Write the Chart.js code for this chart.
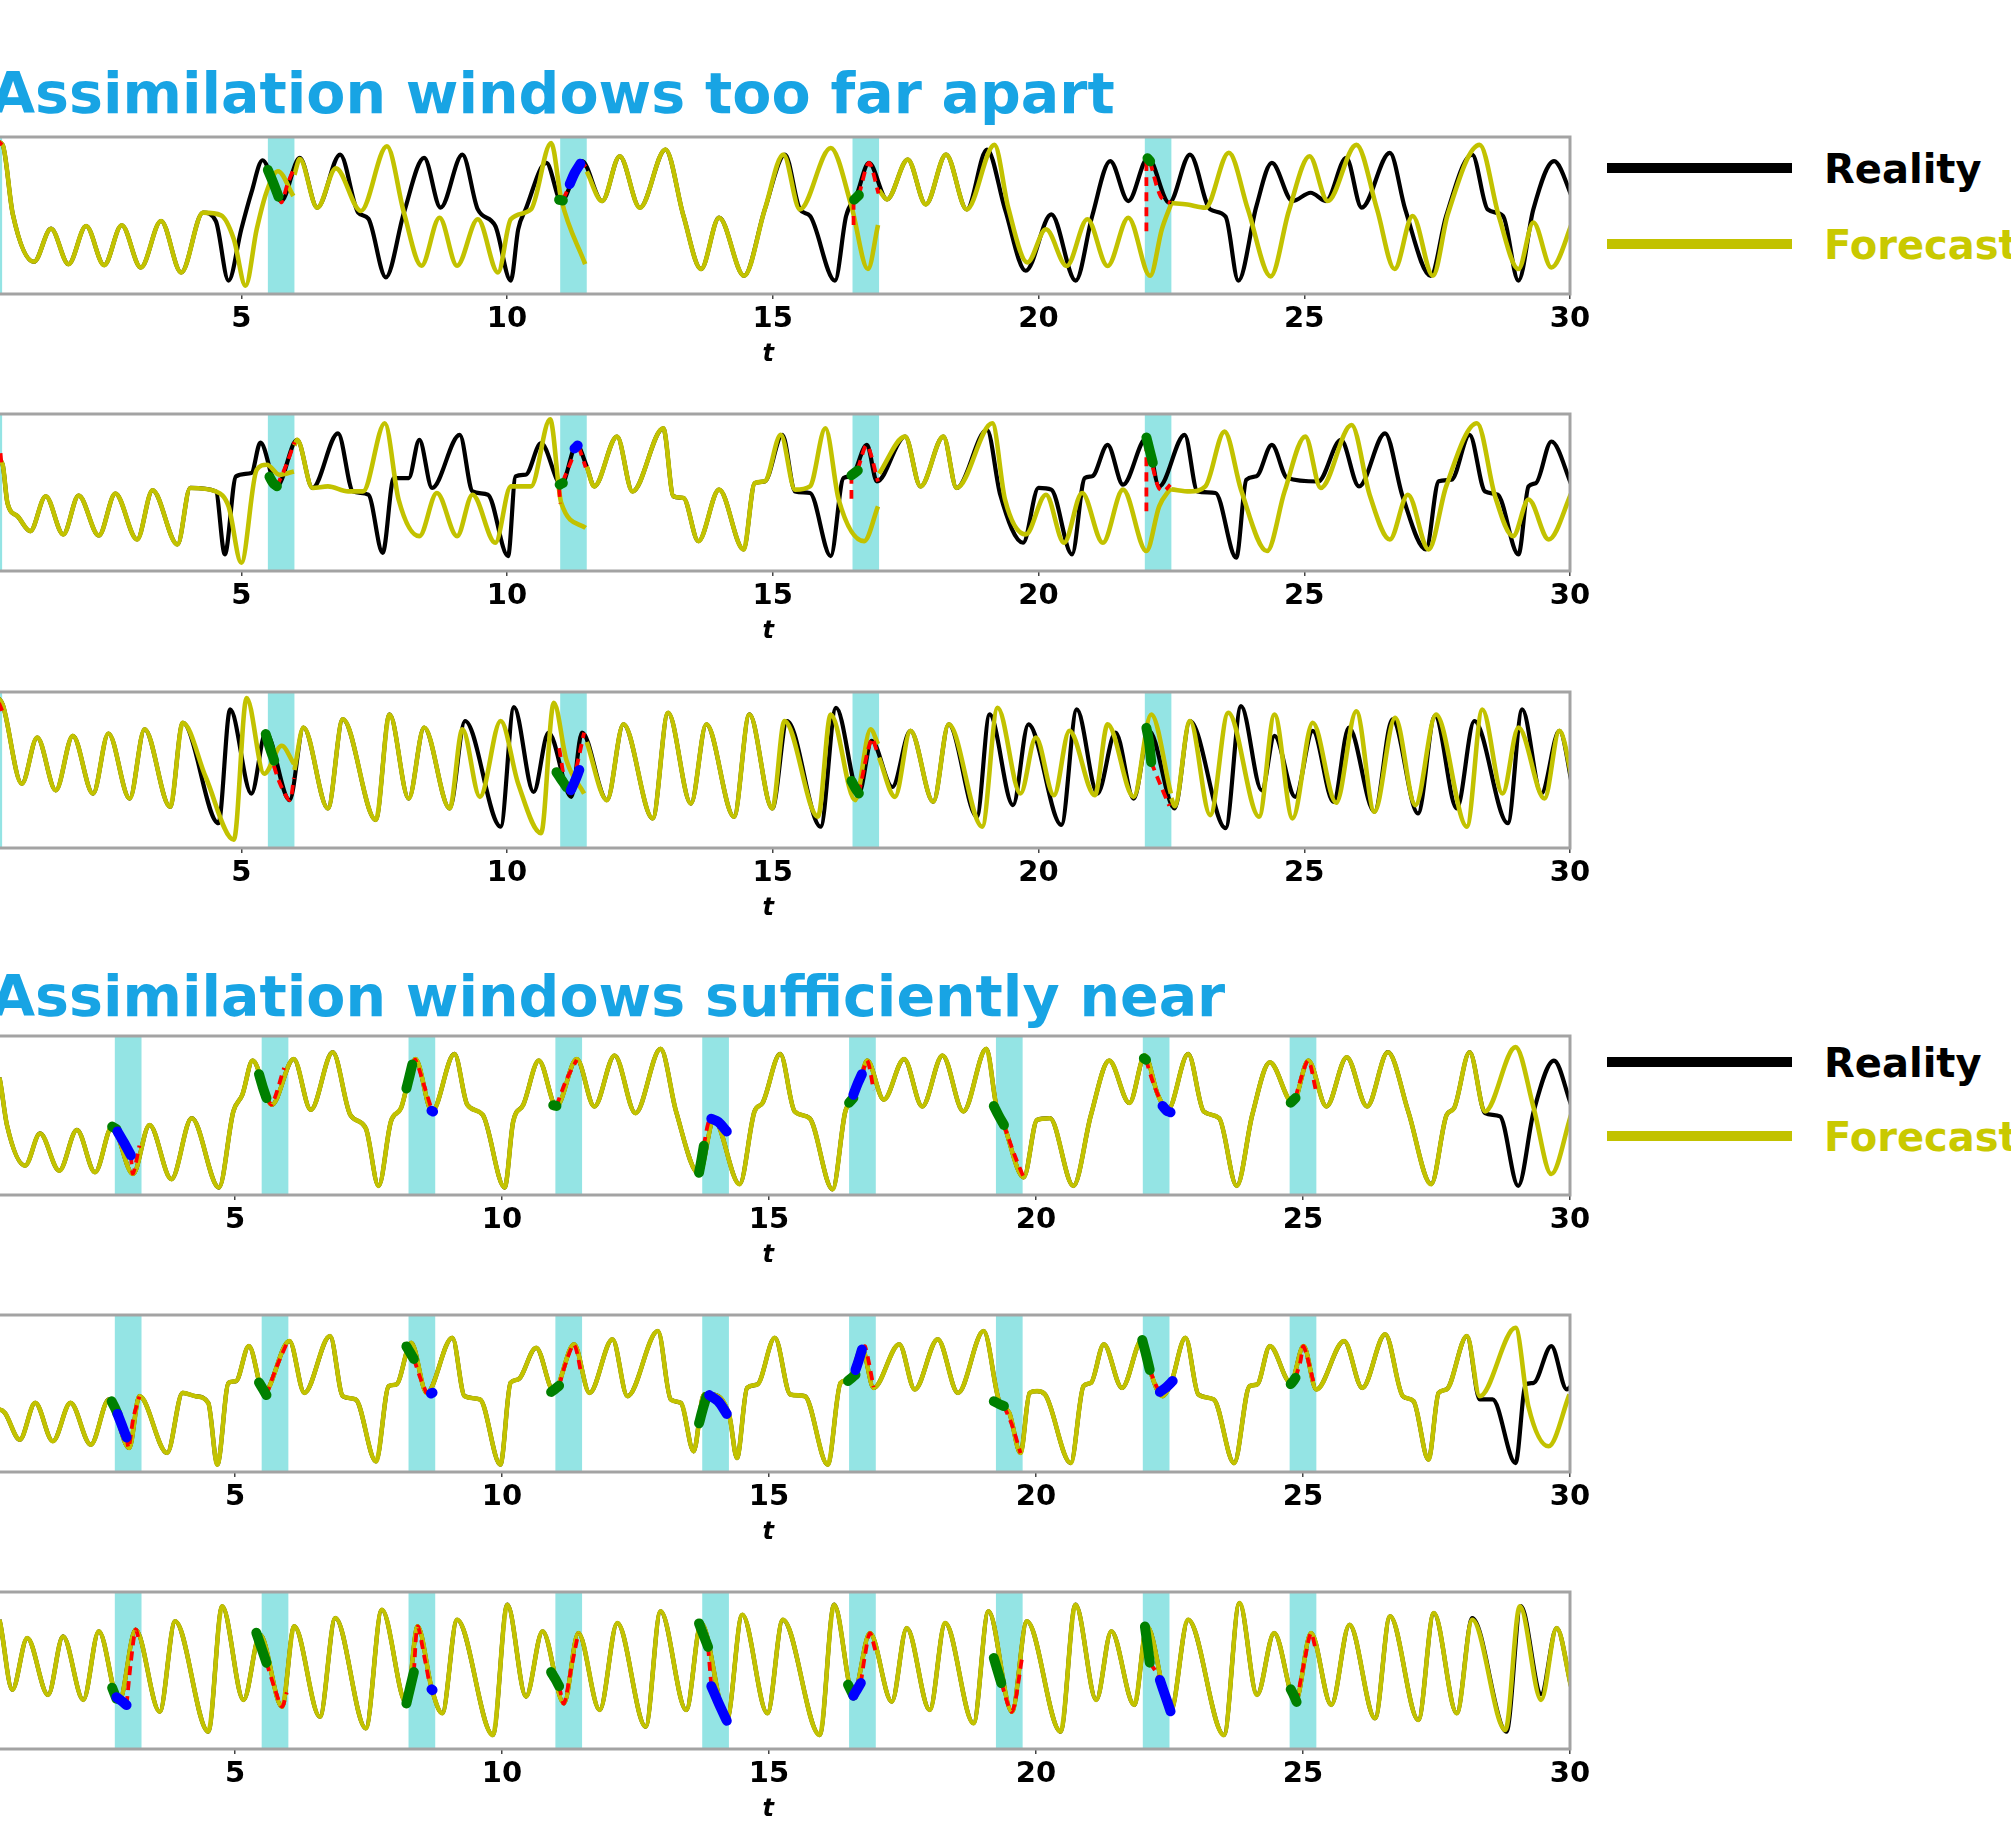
<!DOCTYPE html>
<html>
<head>
<meta charset="utf-8">
<script src="https://cdn.jsdelivr.net/npm/chart.js@4.4.1/dist/chart.umd.min.js"></script>
<style>
  html, body { margin: 0; padding: 0; background: #fff; width: 2011px; height: 1843px; overflow: hidden; position: relative; }
  .heading { position: absolute; left: -9px; font-family: "DejaVu Sans", sans-serif; font-weight: bold; font-size: 57px; line-height: 64px; height: 64px; color: #18a4e4; white-space: nowrap; }
  .swatch { position: absolute; left: 1607px; width: 185px; height: 10px; }
  .leglabel { position: absolute; left: 1824px; font-family: "DejaVu Sans", sans-serif; font-weight: bold; font-size: 40px; line-height: 46px; height: 46px; white-space: nowrap; }
</style>
</head>
<body>
<div class="heading" style="top:61px">Assimilation windows too far apart</div>
<div class="heading" style="top:964px">Assimilation windows sufficiently near</div>

<div class="swatch" style="top:163px;background:#000"></div>
<div class="leglabel" style="top:146px;color:#000">Reality</div>
<div class="swatch" style="top:239px;background:#c2c200"></div>
<div class="leglabel" style="top:222px;color:#c9c900">Forecast</div>

<div class="swatch" style="top:1057px;background:#000"></div>
<div class="leglabel" style="top:1040px;color:#000">Reality</div>
<div class="swatch" style="top:1131px;background:#c2c200"></div>
<div class="leglabel" style="top:1114px;color:#c9c900">Forecast</div>

<script>
// ---- time axis ----
const tickValues = [5, 10, 15, 20, 25, 30];
const windowWidth = 0.5;
const farWindows = [0, 5.5, 11, 16.5, 22];
const nearWindows = [2.75, 5.5, 8.25, 11, 13.75, 16.5, 19.25, 22, 24.75];

// ---- windows too far apart: panel 1 ----
const far1Reality = [[0.40,97],[0.51,95],[0.70,51],[1.10,20.5],[1.42,41.6],[1.75,19],[2.08,43.3],[2.42,18.4],[2.75,43.8],[3.11,16.9],[3.49,46.5],[3.87,13.7],[4.28,51.8],[4.52,46.5],[4.76,8.5],[5.00,41.2],[5.19,64.5],[5.40,85.2],[5.75,59.2],[6.10,86.7],[6.43,55],[6.86,88.8],[7.20,51.8],[7.39,48],[7.72,10.6],[8.06,51.8],[8.44,86.7],[8.75,55],[9.16,88.8],[9.45,53.9],[9.78,43.3],[10.07,8.5],[10.21,41.2],[10.35,53.9],[10.74,83.5],[11.02,59.2],[11.41,84.6],[11.79,59.2],[12.12,87.7],[12.50,55],[12.98,92],[13.32,49.7],[13.65,15.9],[13.99,48.6],[14.46,11.6],[14.85,53.9],[15.23,88.8],[15.51,53.9],[15.70,49.7],[16.17,8.5],[16.38,49.7],[16.57,62.4],[16.81,83.5],[17.15,60.3],[17.54,85.6],[17.88,57.1],[18.26,88.8],[18.65,53.9],[19.03,92],[19.37,53.9],[19.76,14.8],[20.24,50.7],[20.70,8.5],[21.01,49.7],[21.35,84.6],[21.69,59.2],[22.06,86.7],[22.46,58.1],[22.85,88.8],[23.23,53.9],[23.52,49.3],[23.76,8.5],[24.10,56],[24.39,83.5],[24.78,59.2],[25.12,64.5],[25.41,59.2],[25.79,86.7],[26.08,55],[26.61,89.9],[26.90,53.9],[27.38,11.6],[27.67,49.7],[28.16,88.8],[28.45,53.9],[28.74,49.7],[29.03,8.5],[29.31,53.9],[29.70,84.6],[30.07,59.2]];
const far1Forecast = [[0.40,97],[0.51,95],[0.70,51],[1.10,20.5],[1.42,41.6],[1.75,19],[2.08,43.3],[2.42,18.4],[2.75,43.8],[3.11,16.9],[3.49,46.5],[3.87,13.7],[4.28,51.8],[4.62,50.1],[4.86,34.9],[5.08,5.3],[5.29,41.2],[5.48,65.5],[5.69,78.2],[5.98,62.4],[6.0,null],[6.0,76],[6.10,86],[6.43,55],[6.78,80],[7.25,52.9],[7.74,94.1],[8.06,51.8],[8.39,18],[8.73,48.6],[9.06,18],[9.45,47.6],[9.83,13.7],[10.07,47.6],[10.45,53.9],[10.83,96.2],[11.02,60.3],[11.47,19],[11.5,null],[11.5,78],[11.79,59.2],[12.12,87.7],[12.50,55],[12.98,92],[13.32,49.7],[13.65,15.9],[13.99,48.6],[14.46,11.6],[14.85,53.9],[15.20,88.8],[15.51,53.9],[16.09,93],[16.48,56],[16.79,15.9],[16.98,44],[17.0,null],[17.0,66],[17.15,60.3],[17.54,85.6],[17.88,57.1],[18.26,88.8],[18.65,53.9],[19.17,95],[19.43,55],[19.79,20.1],[20.14,41.2],[20.53,17.8],[20.92,47.6],[21.30,17.8],[21.69,48.6],[22.10,11.6],[22.32,41.2],[22.49,57],[22.5,null],[22.5,58],[22.8,57],[23.14,55],[23.58,90],[23.94,53.9],[24.37,11.2],[24.71,52.9],[25.10,87.7],[25.44,59.2],[25.98,95],[26.37,53.9],[26.70,15.9],[27.04,49.7],[27.42,11.6],[27.70,50.7],[28.30,95],[28.66,49.7],[29.03,15.9],[29.31,45.5],[29.65,16.9],[30.07,47.6]];
const far1Green = [[5.50,79],[5.60,71],[5.70,62],[5.71,null],[10.98,60],[11.05,59.5],[11.06,null],[16.53,60],[16.62,63],[16.63,null],[22.05,86.5],[22.10,84.5]];
const far1Blue = [[11.18,70],[11.27,77],[11.38,83]];
const far1Red = [[0.44,97],[0.50,95],[0.51,null],[5.70,62],[5.76,58.5],[5.87,70],[5.99,80],[6.0,null],[11.05,60],[11.15,67],[11.16,null],[11.40,84],[11.48,81],[11.49,null],[16.52,44],[16.52,60],[16.53,null],[16.62,63],[16.81,83.5],[16.99,64],[17.0,null],[22.03,40],[22.03,86],[22.04,null],[22.10,84],[22.30,62],[22.48,58]];

// ---- windows too far apart: panel 2 ----
const far2Reality = [[0.40,72],[0.51,67.7],[0.60,43.3],[0.79,34.9],[1.03,25.4],[1.32,47.6],[1.65,23.3],[1.94,48],[2.32,22.6],[2.63,49.3],[3.04,20.1],[3.33,51.4],[3.80,16.9],[4.04,52.9],[4.52,50.7],[4.69,10.6],[4.90,60.3],[5.19,62.4],[5.36,81.8],[5.67,53.9],[6.05,83.5],[6.34,52.9],[6.82,87.7],[7.10,50.7],[7.39,48.6],[7.66,11.6],[7.87,59.2],[8.15,59.2],[8.35,83.5],[8.59,52.9],[9.11,86.7],[9.35,50.7],[9.64,48.6],[10.02,9.5],[10.16,60.3],[10.35,61.3],[10.64,81.4],[11.02,55],[11.31,80.3],[11.50,66.6],[11.64,53.9],[12.07,85.6],[12.36,50.7],[12.94,90.9],[13.13,47.6],[13.32,46.5],[13.60,19],[13.99,51.8],[14.45,13.7],[14.66,56],[14.85,57.1],[15.18,86.7],[15.42,50.7],[15.70,49.7],[16.09,9.5],[16.33,59.2],[16.48,60.3],[16.77,80.3],[16.96,57.1],[17.49,85.6],[17.78,53.9],[18.21,85.6],[18.46,52.9],[19.03,89.9],[19.28,48.6],[19.71,18],[20.0,52.9],[20.24,51.8],[20.63,10.6],[20.87,59.2],[21.01,60.3],[21.30,80.3],[21.59,55],[22.03,84.6],[22.27,53.9],[22.75,86.7],[22.99,50.7],[23.33,49.7],[23.72,8.5],[23.91,58.1],[24.10,60.3],[24.39,80.3],[24.68,59.2],[25.26,57],[25.69,83.5],[26.03,53.9],[26.52,87.7],[26.85,47.6],[27.29,13.7],[27.53,57.1],[27.77,58.1],[28.11,86.7],[28.40,50.7],[28.64,48.6],[29.03,10.6],[29.22,53.9],[29.36,56],[29.65,82.5],[30.04,53.9]];
const far2Forecast = [[0.40,72],[0.51,67.7],[0.60,43.3],[0.79,34.9],[1.03,25.4],[1.32,47.6],[1.65,23.3],[1.94,48],[2.32,22.6],[2.63,49.3],[3.04,20.1],[3.33,51.4],[3.80,16.9],[4.04,52.9],[4.52,50.7],[4.76,41.2],[5.00,5.3],[5.29,64.5],[5.48,67.7],[5.72,61.3],[5.99,63.4],[6.0,null],[6.0,80],[6.05,83.5],[6.34,52.9],[6.63,53.9],[7.01,50.7],[7.29,50.7],[7.70,94.1],[7.96,45.5],[8.35,22.2],[8.68,49.7],[9.06,22.2],[9.35,48.6],[9.78,18],[10.07,53.9],[10.45,53.9],[10.81,96.6],[11.02,43.3],[11.48,27.5],[11.5,null],[11.5,66.6],[11.64,53.9],[12.07,85.6],[12.36,50.7],[12.94,90.9],[13.13,47.6],[13.32,46.5],[13.60,19],[13.99,51.8],[14.45,13.7],[14.66,56],[14.85,57.1],[15.15,86.7],[15.42,51.8],[15.70,53.9],[15.99,90.9],[16.24,45.5],[16.72,19],[16.98,41.2],[17.0,null],[17.0,62],[17.49,85.6],[17.78,53.9],[18.21,85.6],[18.46,52.9],[19.13,94.1],[19.37,45.5],[19.76,23.3],[20.14,48.6],[20.48,18],[20.82,49.7],[21.21,18],[21.59,51.8],[22.03,12.7],[22.27,41.2],[22.49,52.9],[22.5,null],[22.5,52],[22.85,50.7],[23.14,53.9],[23.50,88.8],[23.81,51.8],[24.30,12.7],[24.63,50.7],[25.02,85.6],[25.31,52.9],[25.89,93],[26.23,48.6],[26.61,20.1],[26.95,48.6],[27.34,13.7],[27.67,53.9],[28.25,94.1],[28.59,47.6],[28.93,22.2],[29.22,45.5],[29.60,20.1],[30.04,50.7]];
const far2Green = [[5.53,60],[5.60,56],[5.67,54],[5.68,null],[10.99,55],[11.05,56],[11.06,null],[16.48,61],[16.60,64],[16.61,null],[22.03,85],[22.09,77],[22.15,69]];
const far2Blue = [[11.27,78],[11.33,80]];
const far2Red = [[0.47,75],[0.49,67],[0.50,null],[5.67,54],[5.84,67],[6.0,82],[6.01,null],[10.98,53],[11.0,43],[11.01,null],[11.05,57],[11.22,71],[11.23,null],[11.35,79],[11.48,66],[11.49,null],[16.48,46],[16.48,61],[16.49,null],[16.60,65],[16.77,80],[16.98,57],[16.99,null],[22.03,38],[22.03,84],[22.04,null],[22.15,66],[22.26,53],[22.36,51],[22.48,55]];

// ---- windows too far apart: panel 3 ----
const far3Reality = [[0.40,97],[0.51,92],[0.87,41.2],[1.16,70.8],[1.51,37],[1.83,71.9],[2.21,34.9],[2.50,73.4],[2.90,31.7],[3.18,76.1],[3.66,26.4],[3.90,80.3],[4.57,15.9],[4.79,88.8],[5.19,34.9],[5.46,74],[5.91,30.7],[6.17,77.2],[6.63,25.4],[6.91,82.5],[7.53,18],[7.79,85.6],[8.15,31.7],[8.44,77.2],[8.92,25.4],[9.21,81.4],[9.88,13.7],[10.13,90.3],[10.50,35.9],[10.78,74],[11.21,32.8],[11.41,74],[11.88,30.7],[12.19,79.3],[12.74,19],[13.03,86.7],[13.46,28.5],[13.75,79.3],[14.27,20.1],[14.56,85.6],[14.99,25.4],[15.27,81.4],[15.90,13.7],[16.19,89.9],[16.62,34.9],[16.86,68.7],[17.25,39.1],[17.59,75.1],[18.02,29.6],[18.31,79.3],[18.84,20.1],[19.08,85.6],[19.52,27.5],[19.81,79.3],[20.43,14.8],[20.72,88.8],[21.11,34.9],[21.45,74],[21.79,31.7],[22.08,75.1],[22.56,25.4],[22.85,81.4],[23.52,12.7],[23.81,90.9],[24.20,37],[24.44,71.9],[24.83,32.8],[25.16,75.1],[25.55,29.6],[25.84,77.2],[26.32,23.3],[26.66,82.5],[27.14,22.2],[27.46,84.6],[27.87,25.4],[28.20,81.4],[28.83,15.9],[29.10,88.8],[29.46,34.9],[29.80,75.1],[30.07,34.9]];
const far3Forecast = [[0.40,97],[0.51,92],[0.87,41.2],[1.16,70.8],[1.51,37],[1.83,71.9],[2.21,34.9],[2.50,73.4],[2.90,31.7],[3.18,76.1],[3.66,26.4],[3.90,80.3],[4.33,45.5],[4.86,5.3],[5.10,96.2],[5.43,47.6],[5.76,65.5],[5.99,53.9],[6.0,null],[6.0,50],[6.17,77.2],[6.63,25.4],[6.91,82.5],[7.53,18],[7.79,85.6],[8.15,31.7],[8.44,77.2],[8.92,25.4],[9.16,76.1],[9.49,32.8],[9.88,81.4],[10.21,41.2],[10.64,9.5],[10.88,93],[11.12,56],[11.45,34.9],[11.5,null],[11.5,68],[11.88,30.7],[12.19,79.3],[12.74,19],[13.03,86.7],[13.46,28.5],[13.75,79.3],[14.27,20.1],[14.56,85.6],[14.99,25.4],[15.22,81.4],[15.85,20.1],[16.09,85.6],[16.55,30.7],[16.84,76.1],[16.98,66.6],[17.0,null],[17.0,58],[17.30,32.8],[17.59,75.1],[18.02,29.6],[18.31,79.3],[18.94,13.7],[19.23,89.9],[19.66,34.9],[19.95,70.8],[20.29,33.8],[20.58,75.1],[21.06,33.8],[21.30,79.3],[21.79,32.8],[22.12,85.6],[22.49,34.9],[22.5,null],[22.5,32],[22.56,26.8],[22.85,81.4],[23.23,21.1],[23.57,86.7],[24.15,20.1],[24.44,85.6],[24.78,19],[25.16,80.3],[25.60,29],[25.98,87.7],[26.32,23.3],[26.71,83.5],[27.09,27.5],[27.48,85.6],[28.06,13.7],[28.35,88.8],[28.73,34.9],[29.03,77.2],[29.52,31.7],[29.80,75.1],[30.07,39.1]];
const far3Green = [[5.46,73],[5.54,64],[5.62,56],[5.63,null],[10.93,48.6],[11.02,44],[11.12,39],[11.13,null],[16.48,43],[16.56,38],[16.62,35],[16.63,null],[22.03,77],[22.08,68],[22.12,55]];
const far3Blue = [[11.20,37],[11.28,43],[11.36,50]];
const far3Red = [[0.44,93],[0.50,88],[0.51,null],[5.53,62],[5.72,42],[5.91,30.7],[5.99,45],[6.0,null],[10.98,64],[11.12,40],[11.25,45],[11.45,74],[11.46,null],[16.62,35],[16.86,70],[16.98,60],[16.99,null],[22.12,55],[22.30,40],[22.46,27]];

// ---- windows sufficiently near: panel 4 ----
const near1Shared = [[0.45,85],[0.59,73.8],[0.73,44],[1.07,18.5],[1.35,38.7],[1.71,15.3],[2.04,40.9],[2.38,14.3],[2.70,43],[3.09,13.2],[3.40,44],[3.81,10],[4.19,48.3],[4.70,4.7],[4.97,52.6],[5.14,63.2],[5.33,84.5],[5.69,56.8],[6.10,85.5],[6.42,53.6],[6.83,89.8],[7.16,50.4],[7.45,41.9],[7.69,5.7],[7.92,46.2],[8.11,54.7],[8.38,85.5],[8.69,52.6],[9.11,88.7],[9.35,56.8],[9.64,50.4],[10.05,4.7],[10.21,46.2],[10.40,56.8],[10.69,84.5],[11.02,55.7],[11.40,85.5],[11.73,55.7],[12.11,87.7],[12.50,51.5],[12.97,91.9],[13.26,52.6],[13.69,13.2],[13.97,47.2],[14.45,6.8],[14.73,52.6],[14.88,57.9],[15.21,88.7],[15.48,52.6],[15.76,48.3],[16.19,3.6],[16.43,52.6],[16.58,60],[16.72,73.8],[16.84,84.5],[17.15,60],[17.53,85.5],[17.87,55.7],[18.25,87.7],[18.64,52.6],[19.07,91.9],[19.26,55.7],[19.40,44],[19.77,11.1],[20.02,47.2],[20.26,48.3],[20.70,5.7],[21.03,50.4],[21.37,84.5],[21.75,57.9],[22.04,87.7],[22.28,63.2],[22.47,53.6],[22.85,88.7],[23.14,52.6],[23.43,48.3],[23.76,5.7],[24.05,50.4],[24.38,83.4],[24.81,57.9],[25.10,84.5],[25.44,55.7],[25.82,86.6],[26.20,55.7],[26.59,89.8],[26.97,52.6],[27.40,6.8],[27.69,50.4],[27.83,54.7],[28.12,89.8]];
const near1RealityTail = [[28.41,51.5],[28.69,49.4],[29.03,5.7],[29.32,52.6],[29.70,84.5],[30.02,56.8]];
const near1ForecastTail = [[28.41,52.6],[28.98,93],[29.32,54.7],[29.65,13.2],[30.02,50.4]];
const near1Green = [[2.70,43],[2.78,41.5],[2.79,null],[5.45,76],[5.52,68],[5.59,61],[5.60,null],[8.21,67],[8.27,75],[8.32,82],[8.33,null],[10.96,56.5],[11.02,56],[11.03,null],[13.69,14],[13.74,23],[13.78,31],[13.79,null],[16.50,58],[16.58,61],[16.59,null],[19.21,56],[19.30,50],[19.40,44],[19.41,null],[22.02,86],[22.06,85],[22.07,null],[24.77,58],[24.86,61]];
const near1Blue = [[2.80,40],[2.92,33],[3.05,25],[3.06,null],[8.68,53],[8.71,52.5],[8.72,null],[13.92,48],[14.05,46],[14.21,40],[14.22,null],[16.58,63],[16.66,70],[16.74,76],[16.75,null],[22.37,56],[22.45,53],[22.52,52]];
const near1Red = [[3.05,25],[3.09,13.5],[3.21,31],[3.22,null],[5.59,61],[5.69,57],[5.92,80],[5.93,null],[8.32,82],[8.38,85],[8.55,68],[8.68,54],[8.69,null],[11.02,56],[11.20,72],[11.40,85],[11.41,null],[13.78,31],[13.86,45],[13.92,48],[13.93,null],[16.74,76],[16.84,84.5],[16.96,66],[16.97,null],[19.40,44],[19.60,25],[19.77,11],[19.78,null],[22.06,85],[22.20,70],[22.37,56],[22.38,null],[24.86,61],[24.95,72],[25.10,84.5],[25.24,66]];

// ---- windows sufficiently near: panel 5 ----
const near2Shared = [[0.45,40],[0.59,39.8],[0.69,37.7],[0.97,20.6],[1.26,44],[1.59,19.6],[1.92,44],[2.30,17.4],[2.64,46.2],[3.02,15.3],[3.21,48.3],[3.73,12.1],[4.02,50.4],[4.26,48.3],[4.50,44],[4.67,4.7],[4.88,56.8],[5.02,57.9],[5.26,80.2],[5.54,50.4],[6.02,83.4],[6.30,50.4],[6.78,86.6],[7.02,48.3],[7.26,46.2],[7.64,6.8],[7.88,54.7],[8.02,55.7],[8.30,82.3],[8.59,50.4],[9.07,85.5],[9.30,48.3],[9.59,46.2],[9.97,4.7],[10.16,56.8],[10.30,58.9],[10.64,79.1],[10.97,51.5],[11.35,81.3],[11.64,50.4],[12.07,84.5],[12.35,48.3],[12.92,89.8],[13.16,46.2],[13.35,44],[13.59,13.2],[13.78,49.4],[13.92,49.4],[14.26,35.5],[14.40,8.9],[14.59,53.6],[14.78,55.7],[15.11,85.5],[15.40,49.4],[15.67,48.3],[16.10,4.7],[16.34,56.8],[16.50,58.9],[16.74,79],[16.96,53.6],[17.44,81.3],[17.73,52.6],[18.16,84.5],[18.54,50.4],[19.02,89.8],[19.31,45.1],[19.50,37.7],[19.71,12.1],[19.88,50.4],[20.02,51.5],[20.17,49.4],[20.65,5.7],[20.89,54.7],[21.03,56.8],[21.27,81.3],[21.61,53.6],[21.99,84.5],[22.13,65.3],[22.37,48.3],[22.52,55.7],[22.80,85.5],[23.04,49.4],[23.33,46.2],[23.71,5.7],[24.00,54.7],[24.14,55.7],[24.38,80.2],[24.77,56.8],[25.01,80.2],[25.25,52.6],[25.77,83.4],[26.11,53.6],[26.54,87.7],[26.87,48.3],[27.07,45.1],[27.35,7.9],[27.54,50.4],[27.69,52.6],[28.07,86.6]];
const near2RealityTail = [[28.31,46.2],[28.55,46.2],[28.98,5.7],[29.17,55.7],[29.32,56.8],[29.65,80.2],[29.94,52.6],[30.02,54.7]];
const near2ForecastTail = [[28.31,48.3],[28.98,91.9],[29.22,41.9],[29.60,16.4],[29.99,49.4]];
const near2Green = [[2.69,45],[2.75,41],[2.80,37],[2.81,null],[5.45,57],[5.52,53],[5.59,49],[5.60,null],[8.21,80],[8.28,76],[8.35,72],[8.36,null],[10.92,51],[11.0,53],[11.07,55],[11.08,null],[13.69,31],[13.76,40],[13.83,48],[13.84,null],[16.48,58],[16.55,60],[16.62,62],[16.63,null],[19.21,45],[19.30,43.5],[19.40,42],[19.41,null],[21.99,84],[22.06,75],[22.13,65],[22.14,null],[24.77,56],[24.82,58],[24.86,60]];
const near2Blue = [[2.80,37],[2.88,30],[2.97,22],[2.98,null],[8.67,50],[8.70,50.5],[8.71,null],[13.88,49],[14.05,45],[14.21,37],[14.22,null],[16.62,65],[16.68,71],[16.74,78],[16.75,null],[22.32,51],[22.44,54],[22.56,58]];
const near2Red = [[2.97,22],[3.01,15.5],[3.10,35],[3.21,48],[3.22,null],[5.59,49],[5.78,67],[5.97,82],[5.98,null],[8.35,72],[8.47,60],[8.59,50],[8.60,null],[11.07,55],[11.20,70],[11.35,81],[11.49,62],[11.50,null],[13.83,48],[13.88,49],[13.89,null],[16.74,78],[16.80,80],[16.96,54],[16.97,null],[19.40,42],[19.55,30],[19.71,12],[19.72,null],[22.13,65],[22.25,55],[22.32,51],[22.33,null],[24.86,60],[24.95,70],[25.01,80],[25.20,57]];

// ---- windows sufficiently near: panel 6 ----
const near3Shared = [[0.45,92],[0.59,82.3],[0.83,37.7],[1.11,70.6],[1.50,34.5],[1.78,71.7],[2.16,31.3],[2.45,74.9],[2.83,30.2],[3.14,76],[3.59,23.8],[3.88,81.3],[4.50,11.1],[4.76,90.9],[5.16,31.3],[5.47,72.8],[5.88,27],[6.11,78.1],[6.59,20.6],[6.88,83.4],[7.45,13.2],[7.75,88.7],[8.21,29.1],[8.42,78.1],[8.69,37.7],[8.88,22.8],[9.16,82.3],[9.83,8.9],[10.10,91.9],[10.45,33.4],[10.76,74.9],[11.16,29.1],[11.43,73.8],[11.83,24.9],[12.16,80.2],[12.69,14.3],[12.97,87.7],[13.45,24.9],[13.73,80.2],[14.21,18.5],[14.50,85.5],[14.97,22.8],[15.26,82.3],[15.95,8.9],[16.22,91.9],[16.58,34.5],[16.89,73.8],[17.30,30.2],[17.58,77],[18.01,24.9],[18.30,80.2],[18.83,16.4],[19.11,87.7],[19.55,23.8],[19.83,81.3],[20.46,11.1],[20.74,91.9],[21.13,31.3],[21.41,74.9],[21.84,28.1],[22.08,78.1],[22.52,23.8],[22.85,82.3],[23.52,8.9],[23.81,93],[24.14,34.5],[24.46,73.8],[24.86,30.2],[25.15,73.8],[25.53,28.1],[25.87,79.1],[26.35,19.6],[26.63,84.5],[27.16,18.5],[27.45,86.6],[27.88,22.8]];
const near3RealityTail = [[28.17,83.4],[28.81,11],[29.08,91],[29.46,35],[29.75,77],[30.02,40]];
const near3ForecastTail = [[28.17,82.3],[28.79,12.1],[29.06,90.9],[29.46,31.3],[29.75,77],[30.02,39.8]];
const near3Green = [[2.70,39],[2.74,35.5],[2.78,32],[2.79,null],[5.40,74],[5.50,64],[5.59,55],[5.60,null],[8.21,29],[8.28,39],[8.35,49],[8.36,null],[10.92,49],[11.0,44.5],[11.07,40],[11.08,null],[13.69,80],[13.78,72],[13.86,65],[13.87,null],[16.48,41],[16.53,37.5],[16.58,34],[16.59,null],[19.21,58],[19.28,50],[19.35,42],[19.36,null],[22.04,78],[22.09,66],[22.13,55],[22.14,null],[24.77,38],[24.83,34],[24.88,30]];
const near3Blue = [[2.78,33],[2.88,30.5],[2.97,28],[2.98,null],[8.68,38],[8.70,37.5],[8.71,null],[13.92,40],[14.06,29],[14.21,18],[14.22,null],[16.58,34],[16.65,38],[16.72,42],[16.73,null],[22.32,44],[22.42,34],[22.52,24]];
const near3Red = [[2.97,28],[3.05,55],[3.14,76],[3.21,68],[3.22,null],[5.59,55],[5.75,38],[5.88,27],[5.97,36],[5.98,null],[8.35,49],[8.42,78],[8.55,58],[8.64,42],[8.65,null],[11.07,40],[11.16,29],[11.30,52],[11.43,73.8],[11.44,null],[13.86,65],[13.92,40],[13.93,null],[16.72,42],[16.80,60],[16.89,73.8],[16.99,63],[17.0,null],[19.35,42],[19.55,23.8],[19.74,58],[19.75,null],[22.13,55],[22.25,49],[22.32,44],[22.33,null],[24.88,30],[25.05,60],[25.15,73.8],[25.24,63]];

// ---- panel geometry (page pixels of each plot box) ----
const panels = [
  { top: 137, bottom: 294, tMin: 0.46, windows: farWindows, reality: far1Reality, forecast: far1Forecast, green: far1Green, blue: far1Blue, red: far1Red },
  { top: 414, bottom: 571, tMin: 0.46, windows: farWindows, reality: far2Reality, forecast: far2Forecast, green: far2Green, blue: far2Blue, red: far2Red },
  { top: 692, bottom: 848, tMin: 0.46, windows: farWindows, reality: far3Reality, forecast: far3Forecast, green: far3Green, blue: far3Blue, red: far3Red },
  { top: 1036, bottom: 1195, tMin: 0.60, windows: nearWindows, reality: near1Shared.concat(near1RealityTail), forecast: near1Shared.concat(near1ForecastTail), green: near1Green, blue: near1Blue, red: near1Red },
  { top: 1315, bottom: 1472, tMin: 0.60, windows: nearWindows, reality: near2Shared.concat(near2RealityTail), forecast: near2Shared.concat(near2ForecastTail), green: near2Green, blue: near2Blue, red: near2Red },
  { top: 1592, bottom: 1749, tMin: 0.60, windows: nearWindows, reality: near3Shared.concat(near3RealityTail), forecast: near3Shared.concat(near3ForecastTail), green: near3Green, blue: near3Blue, red: near3Red }
];

const xy = a => a.map(([x, y]) => ({ x, y }));

// shaded assimilation windows behind the curves, and the open plot frame on top
const windowBands = {
  id: 'windowBands',
  beforeDatasetsDraw(chart, _args, opts) {
    const { ctx, chartArea: c, scales: { x } } = chart;
    ctx.save();
    ctx.beginPath();
    ctx.rect(c.left, c.top, c.right - c.left, c.bottom - c.top);
    ctx.clip();
    ctx.fillStyle = 'rgba(0,191,191,0.42)';
    for (const s of opts.starts) {
      const a = x.getPixelForValue(s);
      const b = x.getPixelForValue(s + opts.width);
      ctx.fillRect(a, c.top, b - a, c.bottom - c.top);
    }
    ctx.restore();
  },
  afterDatasetsDraw(chart) {
    const { ctx, chartArea: c } = chart;
    ctx.save();
    ctx.strokeStyle = '#a3a3a3';
    ctx.lineWidth = 3;
    ctx.beginPath();
    ctx.moveTo(c.left, c.top);
    ctx.lineTo(c.right, c.top);
    ctx.lineTo(c.right, c.bottom);
    ctx.lineTo(c.left, c.bottom);
    ctx.stroke();
    ctx.restore();
  }
};

const AXIS_H = 75, PAD_TOP = 4, PAD_RIGHT = 40, PLOT_RIGHT = 1570;

panels.forEach(p => {
  const h = p.bottom - p.top;
  const canvas = document.createElement('canvas');
  const W = PLOT_RIGHT + PAD_RIGHT, H = h + PAD_TOP + AXIS_H;
  canvas.width = W; canvas.height = H;
  canvas.style.cssText = `position:absolute;left:0;top:${p.top - PAD_TOP}px;width:${W}px;height:${H}px;`;
  document.body.appendChild(canvas);

  new Chart(canvas, {
    type: 'line',
    data: {
      datasets: [
        { label: 'Reality', data: xy(p.reality), borderColor: '#000000', borderWidth: 4.2, cubicInterpolationMode: 'monotone', order: 4 },
        { label: 'Forecast', data: xy(p.forecast), borderColor: '#c2c200', borderWidth: 4.6, cubicInterpolationMode: 'monotone', order: 3 },
        { label: 'analysis', data: xy(p.red), borderColor: '#ff0000', borderWidth: 3.8, borderDash: [9, 6], tension: 0.3, order: 2 },
        { label: 'obs start', data: xy(p.green), borderColor: '#008000', borderWidth: 10, borderCapStyle: 'round', tension: 0.3, order: 1 },
        { label: 'obs end', data: xy(p.blue), borderColor: '#0000ff', borderWidth: 10, borderCapStyle: 'round', tension: 0.3, order: 0 }
      ]
    },
    options: {
      responsive: false,
      animation: false,
      devicePixelRatio: 1,
      layout: { padding: { top: PAD_TOP, right: PAD_RIGHT, left: 0, bottom: 0 } },
      elements: { point: { radius: 0 }, line: { fill: false, borderJoinStyle: 'round' } },
      plugins: {
        legend: { display: false },
        tooltip: { enabled: false },
        windowBands: { starts: p.windows, width: windowWidth }
      },
      scales: {
        x: {
          type: 'linear',
          min: p.tMin,
          max: 30,
          afterBuildTicks: s => { s.ticks = tickValues.map(v => ({ value: v })); },
          afterFit: s => { s.height = AXIS_H; },
          ticks: {
            font: { family: 'DejaVu Sans', weight: 'bold', size: 29 },
            color: '#000',
            padding: 3,
            autoSkip: false,
            maxRotation: 0,
            callback: v => String(v)
          },
          grid: { drawOnChartArea: false, drawTicks: true, tickLength: 5, color: '#444', lineWidth: 1.5 },
          border: { display: false },
          title: {
            display: true,
            text: 't    ',
            color: '#000',
            font: { family: 'DejaVu Sans', weight: 'bold', style: 'italic', size: 24 },
            padding: { top: 0, bottom: 0 }
          }
        },
        y: { display: false, min: 0, max: 100 }
      }
    },
    plugins: [windowBands]
  });
});
</script>
</body>
</html>
